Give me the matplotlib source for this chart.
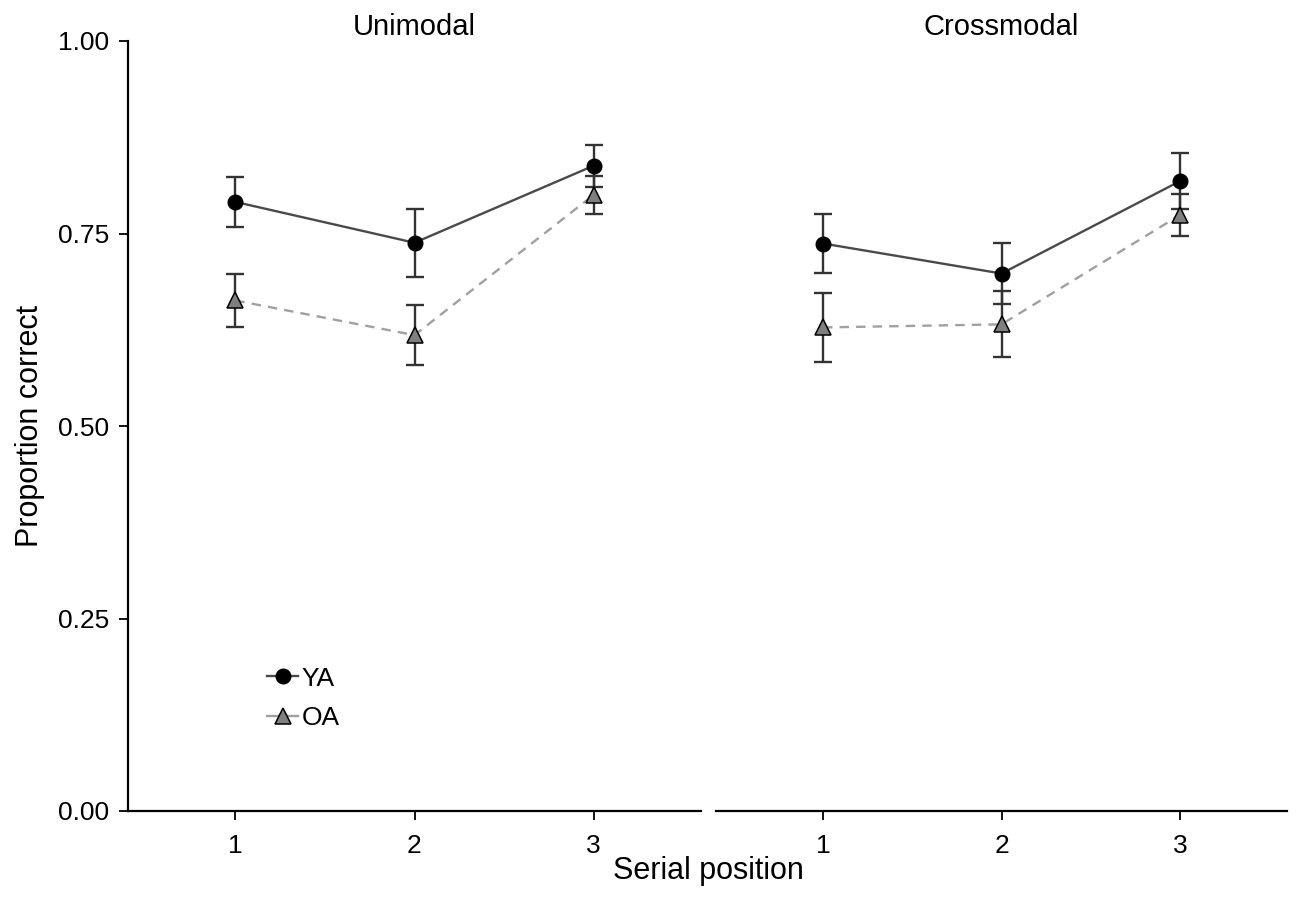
import numpy as np
import matplotlib

matplotlib.use("Agg")
import matplotlib.pyplot as plt
from matplotlib.lines import Line2D

plt.rcParams["font.family"] = ["Liberation Sans", "DejaVu Sans"]

# ---- data -------------------------------------------------------------- #
positions = [1, 2, 3]
panels = ["Unimodal", "Crossmodal"]

uni_ya = [0.791, 0.738, 0.838]
uni_ya_se = [0.033, 0.044, 0.027]
uni_oa = [0.663, 0.618, 0.800]
uni_oa_se = [0.034, 0.039, 0.025]

cross_ya = [0.737, 0.698, 0.818]
cross_ya_se = [0.038, 0.040, 0.036]
cross_oa = [0.628, 0.632, 0.774]
cross_oa_se = [0.045, 0.043, 0.027]

yticks = [0.0, 0.25, 0.50, 0.75, 1.00]

series = {
    "Unimodal": [(uni_ya, uni_ya_se), (uni_oa, uni_oa_se)],
    "Crossmodal": [(cross_ya, cross_ya_se), (cross_oa, cross_oa_se)],
}

fig = plt.figure(figsize=(12.96, 9.15), dpi=100)
ax_l = fig.add_axes([128 / 1296, 1 - 811 / 915, 573 / 1296, 770 / 915])
ax_r = fig.add_axes([716 / 1296, 1 - 811 / 915, 571 / 1296, 770 / 915], sharey=ax_l)

for ax, name in zip([ax_l, ax_r], panels):
    (ya, ya_se), (oa, oa_se) = series[name]
    # error bars first, then lines/markers on top
    for vals, se in [(oa, oa_se), (ya, ya_se)]:
        ax.errorbar(positions, vals, yerr=se, fmt="none", ecolor="#333333",
                    elinewidth=1.7, capsize=6.5, capthick=1.7, zorder=2)
    ax.plot(positions, oa, ls=(0, (4, 3)), color="#a0a0a0", lw=1.7, zorder=3)
    ax.plot(positions, ya, ls="-", color="#4a4a4a", lw=1.7, zorder=3)
    ax.plot(positions, oa, ls="none", marker="^", markersize=11.5,
            markerfacecolor="#7f7f7f", markeredgecolor="black",
            markeredgewidth=1.1, zorder=4)
    ax.plot(positions, ya, ls="none", marker="o", markersize=10.5,
            markerfacecolor="black", markeredgecolor="black", zorder=4)

    ax.set_xlim(0.4, 3.6)
    ax.set_ylim(0, 1)
    ax.set_xticks(positions, [str(p) for p in positions])
    ax.set_title(name, fontsize=21, pad=2)
    ax.spines["top"].set_visible(False)
    ax.spines["right"].set_visible(False)
    ax.spines["bottom"].set_linewidth(1.6)
    ax.spines["left"].set_linewidth(1.6)
    ax.tick_params(direction="out", length=6.5, width=1.3, labelsize=19,
                   colors="black")
    ax.tick_params(axis="x", pad=10)
    ax.tick_params(axis="y", pad=7)

ax_l.set_yticks(yticks, [f"{v:.2f}" for v in yticks])
ax_r.spines["left"].set_visible(False)
ax_r.tick_params(axis="y", left=False, labelleft=False)

fig.text(30 / 1296, 1 - 426 / 915, "Proportion correct", rotation=90,
         ha="center", va="center", fontsize=22)
fig.text(708 / 1296, 1 - 871 / 915, "Serial position", ha="center",
         va="center", fontsize=22)

handles = [
    Line2D([], [], color="#4a4a4a", lw=1.7, marker="o", markersize=10.5,
           markerfacecolor="black", markeredgecolor="black"),
    Line2D([], [], color="#a0a0a0", lw=1.7, marker="^", markersize=11.5,
           markerfacecolor="#7f7f7f", markeredgecolor="black",
           markeredgewidth=1.1),
]
ax_l.legend(handles, ["YA", "OA"], loc="center left",
            bbox_to_anchor=(0.225, 0.146), frameon=False, fontsize=19,
            handlelength=1.15, handletextpad=0.15, labelspacing=0.6,
            borderaxespad=0)

fig.savefig("out.png", dpi=100)
